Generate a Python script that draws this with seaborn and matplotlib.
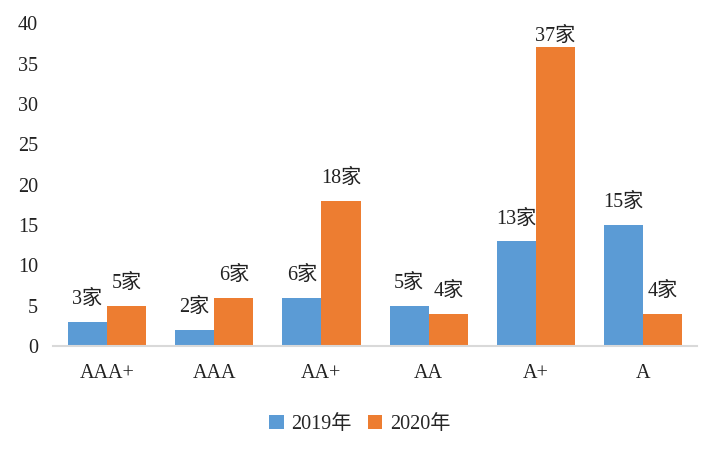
import pandas as pd
import matplotlib
matplotlib.use('Agg')
import matplotlib.pyplot as plt
import seaborn as sns

ratings = ['AAA+', 'AAA', 'AA+', 'AA', 'A+', 'A']
y2019 = [3, 2, 6, 5, 13, 15]
y2020 = [5, 6, 18, 4, 37, 4]
years = ['2019年', '2020年']
colors = ['#5B9BD5', '#ED7D31']

df = pd.DataFrame({
    'rating': ratings * 2,
    'count': y2019 + y2020,
    'year': [years[0]] * len(ratings) + [years[1]] * len(ratings),
})

sns.set_style('white')
plt.rcParams['font.family'] = ['Liberation Serif', 'Noto Sans CJK SC']

fig = plt.figure(figsize=(7.2, 4.55), dpi=100)
ax = fig.add_axes([0.074, 0.2396, 0.894, 0.7094])

sns.barplot(data=df, x='rating', y='count', hue='year', palette=colors,
            width=0.73, saturation=1, linewidth=0, ax=ax, legend=True)

# étiquettes au-dessus des barres (plus serrée près du haut)
for cont in ax.containers:
    for bar, v in zip(cont, cont.datavalues):
        pad = 1 if v > 35 else 9
        ax.annotate(f'{int(v)}家', (bar.get_x() + bar.get_width() / 2, v),
                    xytext=(0, pad), textcoords='offset points',
                    ha='center', va='bottom', fontsize=14.5, color='#222222')

ax.set_ylim(0, 40)
ax.set_yticks(range(0, 41, 5))
ax.set_xlim(-0.5, len(ratings) - 0.5)
ax.set_xlabel('')
ax.set_ylabel('')

for s in ['top', 'right', 'left']:
    ax.spines[s].set_visible(False)
ax.spines['bottom'].set_color('#D9D9D9')
ax.spines['bottom'].set_linewidth(1.5)

ax.tick_params(axis='x', length=0, pad=13, labelsize=14.5, colors='#222222')
ax.tick_params(axis='y', length=0, pad=11, labelsize=14.5, colors='#222222')

handles, labels = ax.get_legend_handles_labels()
ax.get_legend().remove()
fig.legend(handles, labels, loc='center', bbox_to_anchor=(0.5, 0.067), ncol=2,
           frameon=False, fontsize=14.5, handlelength=0.7, handleheight=0.7,
           handletextpad=0.4, columnspacing=0.8)

fig.savefig('out.png', dpi=100)
